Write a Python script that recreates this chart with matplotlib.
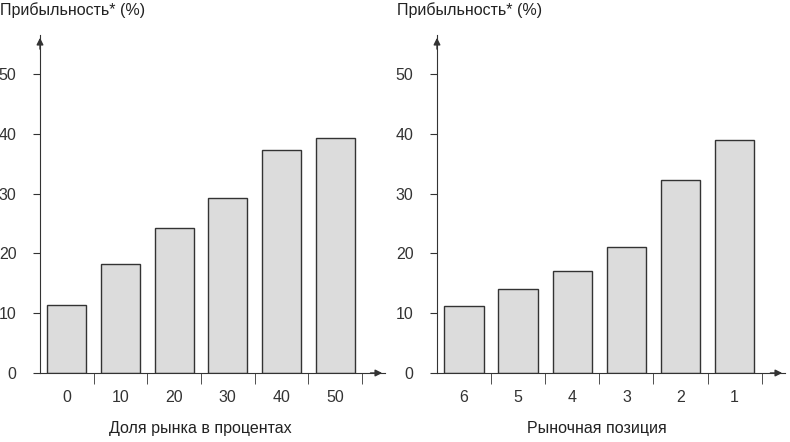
import matplotlib
matplotlib.use("Agg")
import matplotlib.pyplot as plt
import numpy as np

plt.rcParams['font.family'] = 'Liberation Sans'

left_cats = ["0", "10", "20", "30", "40", "50"]
left_vals = [11.3, 18.2, 24.2, 29.3, 37.2, 39.2]
right_cats = ["6", "5", "4", "3", "2", "1"]
right_vals = [11.2, 14.0, 17.0, 21.0, 32.2, 39.0]
yticks = [0, 10, 20, 30, 40, 50]
ylabel = "Прибыльность* (%)"
left_xlabel = "Доля рынка в процентах"
right_xlabel = "Рыночная позиция"

fig = plt.figure(figsize=(7.9, 4.42), dpi=100)
W, H = 790, 442

def panel(x0, x1, cats, vals, xlabel, lab_x):
    ax = fig.add_axes([x0 / W, 1 - 373 / H, (x1 - x0) / W, (373 - 35) / H])
    x = np.arange(len(cats))
    ax.bar(x, vals, width=0.73, color="#dcdcdc", edgecolor="#333333", linewidth=1)
    ax.set_xlim(-0.5, 5.93)
    ax.set_ylim(0, 56.5)
    for s in ["top", "right"]:
        ax.spines[s].set_visible(False)
    for s in ["left", "bottom"]:
        ax.spines[s].set_color("#333333")
    ax.set_yticks(yticks)
    ax.set_yticklabels([str(t) for t in yticks], fontsize=11.5, color="#333333")
    ax.set_xticks(x)
    ax.set_xticklabels(cats, fontsize=11.5, color="#333333")
    ax.tick_params(axis="x", length=0, pad=12)
    ax.tick_params(axis="y", length=5, direction="out", color="#333333", pad=12)
    ax.set_xticks(np.arange(len(cats)) + 0.5, minor=True)
    ax.tick_params(axis="x", which="minor", length=8, color="#333333")
    ax.annotate("", xy=(0, 1.0), xytext=(0, 0.95), xycoords="axes fraction",
                arrowprops=dict(arrowstyle="-|>", color="#333333", lw=1, mutation_scale=10))
    ax.annotate("", xy=(1.0, 0), xytext=(0.95, 0), xycoords="axes fraction",
                arrowprops=dict(arrowstyle="-|>", color="#333333", lw=1, mutation_scale=10))
    fig.text(lab_x / W, 1 - 436 / H, xlabel, ha="center", va="bottom", fontsize=11.5, color="#222222")
    return ax

panel(40, 385, left_cats, left_vals, left_xlabel, 200)
panel(437, 785, right_cats, right_vals, right_xlabel, 597)
fig.text(0 / W, 1 - 2 / H, ylabel, ha="left", va="top", fontsize=11.5, color="#222222")
fig.text(397 / W, 1 - 2 / H, ylabel, ha="left", va="top", fontsize=11.5, color="#222222")

fig.savefig("out.png", dpi=100)
